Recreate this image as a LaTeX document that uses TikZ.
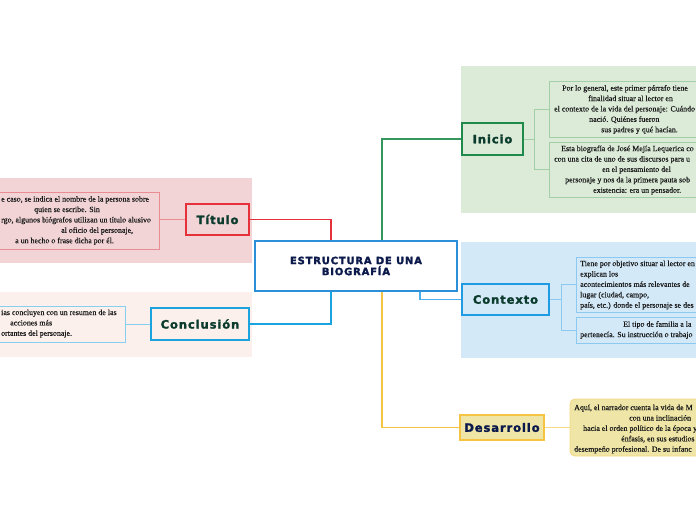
\documentclass[tikz,border=0pt]{standalone}
\usepackage{fontspec}
\setmainfont{Liberation Serif}[FakeBold=0.5]
\newfontfamily\headfont{DejaVu Sans}[UprightFont={* Bold}, FakeBold=2, LetterSpace=8]
\definecolor{titbg}{HTML}{F2D4D6}
\definecolor{titred}{HTML}{E5323A}
\definecolor{titlight}{HTML}{EA8D92}
\definecolor{conbg}{HTML}{FCF0EC}
\definecolor{conblue}{HTML}{1AA3DF}
\definecolor{conlight}{HTML}{86CFF0}
\definecolor{cenblue}{HTML}{2B90D9}
\definecolor{inibg}{HTML}{DCEBD8}
\definecolor{inigreen}{HTML}{1F8A4C}
\definecolor{inilight}{HTML}{A3CFA6}
\definecolor{ctxbg}{HTML}{D3E9F8}
\definecolor{ctxblue}{HTML}{1E9BE3}
\definecolor{ctxlight}{HTML}{8CC9F0}
\definecolor{desfill}{HTML}{EEE5A6}
\definecolor{desborder}{HTML}{F6C443}
\definecolor{deslight}{HTML}{F5D985}
\definecolor{darkgreen}{HTML}{0B3B2C}
\definecolor{navy}{HTML}{0C1A4B}
\definecolor{bodytext}{HTML}{1A1A1A}
\tikzset{
  topicbox/.style={draw, line width=1.8pt, inner sep=0pt, font=\headfont\fontsize{11.5}{13}\selectfont},
  leafbox/.style={draw, line width=0.9pt, inner sep=0pt},
  leaftext/.style={inner sep=0pt, text=bodytext, align=left, anchor=west, font=\fontsize{7.9}{10.4}\selectfont},
  mainline/.style={line width=1.2pt},
  subline/.style={line width=1.0pt}
}
\begin{document}
\begin{tikzpicture}[x=1pt,y=-1pt]
\useasboundingbox (0,0) rectangle (696,520);
\clip (0,0) rectangle (696,520);
\fill[white] (0,0) rectangle (696,520);
% region backgrounds
\fill[titbg] (0,178) rectangle (252,263);
\fill[conbg] (0,292) rectangle (252,357);
\fill[inibg] (461,66) rectangle (700,213);
\fill[ctxbg] (461,242) rectangle (700,358);

% central node
\node[draw=cenblue, line width=1.8pt, fill=white, minimum width=202pt, minimum height=50pt, inner sep=0pt,
      align=center, text=navy, font=\headfont\fontsize{10}{11}\selectfont] (center) at (356,266)
      {ESTRUCTURA DE UNA\\BIOGRAFÍA};

% topic nodes
\node[topicbox, draw=titred, fill=titbg, text=darkgreen, minimum width=63pt, minimum height=31pt] (titulo) at (217.5,219.5) {Título};
\node[topicbox, draw=conblue, fill=conbg, text=darkgreen, minimum width=98pt, minimum height=32pt] (concl) at (200,324) {Conclusión};
\node[topicbox, draw=inigreen, fill=inibg, text=darkgreen, minimum width=61pt, minimum height=32pt] (inicio) at (492.5,139) {Inicio};
\node[topicbox, draw=ctxblue, fill=ctxbg, text=darkgreen, minimum width=87pt, minimum height=31pt] (contexto) at (505.5,299.5) {Contexto};
\node[topicbox, draw=desborder, fill=desfill, text=navy, minimum width=84pt, minimum height=25pt] (desarrollo) at (502,427.5) {Desarrollo};

% leaf boxes (they run past the page edge, as in the reference)
\node[leafbox, draw=titlight, fill=titbg, minimum width=178pt, minimum height=57pt] (tittext) at (70,220.5) {};
\node[leafbox, draw=conlight, fill=conbg, minimum width=180pt, minimum height=36pt] (context) at (35,324) {};
\node[leafbox, draw=inilight, fill=inibg, minimum width=166pt, minimum height=56pt] (ini1) at (632,109) {};
\node[leafbox, draw=inilight, fill=inibg, minimum width=176pt, minimum height=55pt] (ini2) at (637,169.5) {};
\node[leafbox, draw=ctxlight, fill=ctxbg, anchor=west, minimum width=170pt, minimum height=55pt] (ctx1) at (576,284.5) {};
\node[leafbox, draw=ctxlight, fill=ctxbg, anchor=west, minimum width=170pt, minimum height=26pt] (ctx2) at (576,330) {};
\node[leafbox, draw=deslight, fill=desfill, rounded corners=5pt, minimum width=176pt, minimum height=57pt] (destext) at (658,427.5) {};

% leaf texts (the part of each line that the page shows)
\node[leaftext] (tittextT) at (1,220.5)
  {e caso, se indica el nombre de la persona sobre\\
   \hspace*{33pt}quien se escribe. Sin\\
   rgo, algunos biógrafos utilizan un título alusivo\\
   \hspace*{60pt}al oficio del personaje,\\
   \hspace*{14pt}a un hecho o frase dicha por él.};
\node[leaftext] (contextT) at (1,323.5)
  {ias concluyen con un resumen de las\\
   \hspace*{9pt}acciones más\\
   ortantes del personaje.};
\node[leaftext] (ini1T) at (554,109.5)
  {\hspace*{8pt}Por lo general, este primer párrafo tiene\\
   \hspace*{34pt}finalidad situar al lector en\\
   el contexto de la vida del personaje: Cuándo\\
   \hspace*{35pt}nació. Quiénes fueron\\
   \hspace*{47pt}sus padres y qué hacían.};
\node[leaftext] (ini2T) at (554,170)
  {\hspace*{7pt}Esta biografía de José Mejía Lequerica co\\
   con una cita de uno de sus discursos para u\\
   \hspace*{48pt}en el pensamiento del\\
   \hspace*{11pt}personaje y nos da la primera pauta sob\\
   \hspace*{39pt}existencia: era un pensador.};
\node[leaftext] (ctx1T) at (580,285)
  {Tiene por objetivo situar al lector en\\
   explican los\\
   acontecimientos más relevantes de\\
   lugar (ciudad, campo,\\
   país, etc.) donde el personaje se des};
\node[leaftext] (ctx2T) at (580,330)
  {\hspace*{43pt}El tipo de familia a la\\
   pertenecía. Su instrucción o trabajo};
\node[leaftext] (destextT) at (574,429)
  {Aquí, el narrador cuenta la vida de M\\
   \hspace*{55pt}con una inclinación\\
   \hspace*{9pt}hacia el orden político de la época y\\
   \hspace*{47pt}énfasis, en sus estudios\\
   desempeño profesional. De su infanc};

% main connectors
\draw[mainline, titred] ([xshift=-25pt]center.north) |- (titulo.east);
\draw[mainline, inigreen!90!white] ([xshift=26pt]center.north) |- (inicio.west);
\draw[mainline, conblue] ([xshift=-25pt]center.south) |- (concl.east);
\draw[mainline, ctxblue!80!white] ([xshift=64pt]center.south) |- (contexto.west);
\draw[mainline, desborder] ([xshift=26pt]center.south) |- (desarrollo.west);

% sub connectors
\draw[subline, titlight] (tittext.east |- titulo.west) -- (titulo.west);
\draw[subline, conlight] (context.east) -- (concl.west);
\coordinate (inij) at ([xshift=11pt]inicio.east);
\draw[subline, inilight] (inicio.east) -- (inij);
\draw[subline, inilight] (ini1.west) -| (inij) |- (ini2.west);
\coordinate (ctxj) at ([xshift=12pt]contexto.east);
\draw[subline, ctxlight] (contexto.east) -- (ctxj);
\draw[subline, ctxlight] (ctx1.west) -| (ctxj) |- (ctx2.west);
\draw[subline, deslight] (desarrollo.east) -- (destext.west);
\end{tikzpicture}
\end{document}
